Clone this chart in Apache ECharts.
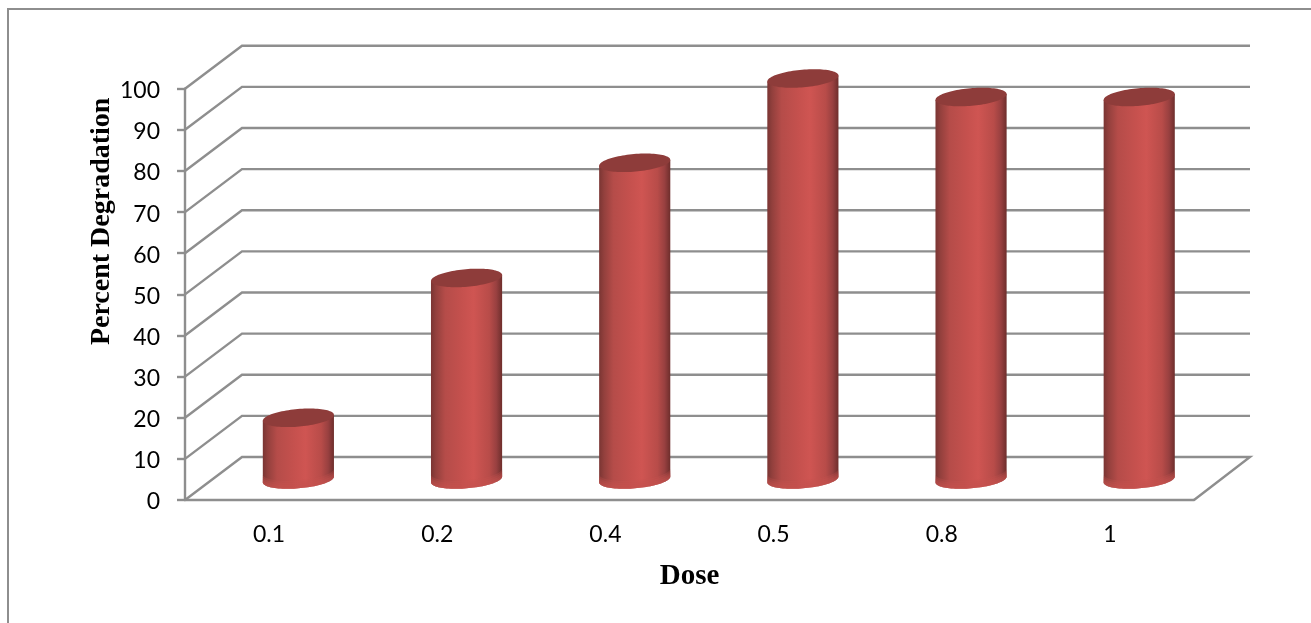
<!DOCTYPE html>
<html>
<head>
<meta charset="utf-8">
<style>html,body{margin:0;padding:0;background:#fff}#c{width:1311px;height:623px}</style>
<script src="https://cdn.jsdelivr.net/npm/echarts@6/dist/echarts.min.js"></script>
</head>
<body>
<div id="c"></div>
<script>
const categories = ['0.1', '0.2', '0.4', '0.5', '0.8', '1'];
const percentDegradation = [15, 49, 77, 97.5, 93, 93];
const gridTicks = [0, 10, 20, 30, 40, 50, 60, 70, 80, 90, 100];

const LINE = '#8e8e8e';
const DEPTH_X = 57, DEPTH_Y = 43;
const RX = 35.7, RY = 8.8, TILT = 5 * Math.PI / 180;

function ellipsePoint(cx, cy, t) {
  const c = Math.cos(t), s = Math.sin(t);
  return [cx + RX * c * Math.cos(TILT) + RY * s * Math.sin(TILT),
          cy - RX * c * Math.sin(TILT) + RY * s * Math.cos(TILT)];
}
const T0 = Math.atan2(RY * Math.sin(TILT), RX * Math.cos(TILT));
function lowerArc(cx, cy) {
  const pts = [];
  for (let k = 0; k <= 48; k++) pts.push(ellipsePoint(cx, cy, T0 + Math.PI * k / 48));
  return pts;
}
function fullEllipse(cx, cy) {
  const pts = [];
  for (let k = 0; k < 96; k++) pts.push(ellipsePoint(cx, cy, Math.PI * 2 * k / 96));
  return pts;
}

const chart = echarts.init(document.getElementById('c'), null, {renderer: 'canvas'});

function renderWalls(params, api) {
  const v = api.value(0);
  const cs = params.coordSys;
  const y = api.coord([0, v])[1];
  const x0 = cs.x, x1 = cs.x + cs.width;
  const style = {stroke: LINE, lineWidth: 2.4, fill: 'none'};
  const points = [[x0, y], [x0 + DEPTH_X, y - DEPTH_Y], [x1 + DEPTH_X - 1, y - DEPTH_Y]];
  if (v === 0) points.push([x1, y]);
  return {type: 'polyline', shape: {points}, style};
}

function renderCylinder(params, api) {
  const i = api.value(0), v = api.value(1);
  const top = api.coord([i, v]);
  const base = api.coord([i, 0]);
  const cx = top[0] + DEPTH_X / 2 + 0.8;
  const ty = top[1] - DEPTH_Y / 2 + 1;
  const by = base[1] - DEPTH_Y / 2 + 1;
  const grad = new echarts.graphic.LinearGradient(0, 0, 1, 0, [
    {offset: 0, color: '#7a3533'},
    {offset: 0.07, color: '#93403d'},
    {offset: 0.2, color: '#b54c49'},
    {offset: 0.45, color: '#c6514e'},
    {offset: 0.6, color: '#cf5552'},
    {offset: 0.82, color: '#b84c49'},
    {offset: 0.92, color: '#984040'},
    {offset: 1, color: '#6e2e2c'}
  ]);
  const tr = ellipsePoint(cx, ty, T0), tl = ellipsePoint(cx, ty, T0 + Math.PI);
  const arc = lowerArc(cx, by);
  const children = [{type: 'polygon', shape: {points: [tl, tr].concat(arc)}, style: {fill: grad}}];
  [8, 6, 4, 2].forEach(function (d) {
    children.push({
      type: 'polygon',
      shape: {points: arc.concat(lowerArc(cx, by - d).reverse())},
      style: {fill: 'rgba(196,82,79,0.28)'}
    });
  });
  children.push({type: 'polygon', shape: {points: fullEllipse(cx, ty)}, style: {fill: '#8e3c3a'}});
  return {type: 'group', children};
}

chart.setOption({
  animation: false,
  backgroundColor: '#ffffff',
  grid: {left: 185, right: 117, top: 88.7, bottom: 123, containLabel: false, outerBoundsMode: 'none'},
  xAxis: {
    type: 'category',
    data: categories,
    name: 'Dose',
    nameLocation: 'middle',
    nameGap: 62,
    nameMoveOverlap: false,
    nameTextStyle: {fontFamily: 'Liberation Serif', fontWeight: 'bold', fontSize: 29, color: '#000'},
    axisLine: {show: true, lineStyle: {color: LINE, width: 2.4}},
    axisTick: {show: false},
    axisLabel: {margin: 23, fontFamily: 'Lato', fontSize: 23, color: '#000'}
  },
  yAxis: {
    type: 'value',
    min: 0,
    max: 100,
    interval: 10,
    name: 'Percent Degradation',
    nameLocation: 'middle',
    nameGap: 69,
    nameMoveOverlap: false,
    nameTextStyle: {fontFamily: 'Liberation Serif', fontWeight: 'bold', fontSize: 28, color: '#000', padding: [0, 0, 0, 146]},
    axisLine: {show: true, lineStyle: {color: LINE, width: 2.4}},
    axisTick: {show: true, length: 8, lineStyle: {color: LINE, width: 2.4}},
    axisLabel: {
      margin: 25,
      fontFamily: 'Lato',
      fontSize: 23,
      color: '#000',
      formatter: '{v|{value}}',
      rich: {v: {fontFamily: 'Lato', fontSize: 23, color: '#000', padding: [4, 0, 0, 0]}}
    },
    splitLine: {show: false}
  },
  graphic: [{
    type: 'polyline',
    silent: true,
    shape: {points: [[8, 623], [8, 9], [1311, 9]]},
    style: {stroke: LINE, lineWidth: 2, fill: 'none'}
  }],
  series: [{
    type: 'custom',
    name: 'Walls',
    coordinateSystem: 'cartesian2d',
    silent: true,
    z: 1,
    clip: false,
    encode: {y: 0},
    data: gridTicks.map(v => [v]),
    renderItem: renderWalls
  }, {
    type: 'custom',
    name: 'Percent Degradation',
    coordinateSystem: 'cartesian2d',
    z: 5,
    clip: false,
    encode: {x: 0, y: 1},
    data: percentDegradation.map((v, i) => [i, v]),
    renderItem: renderCylinder
  }]
});
</script>
</body>
</html>
